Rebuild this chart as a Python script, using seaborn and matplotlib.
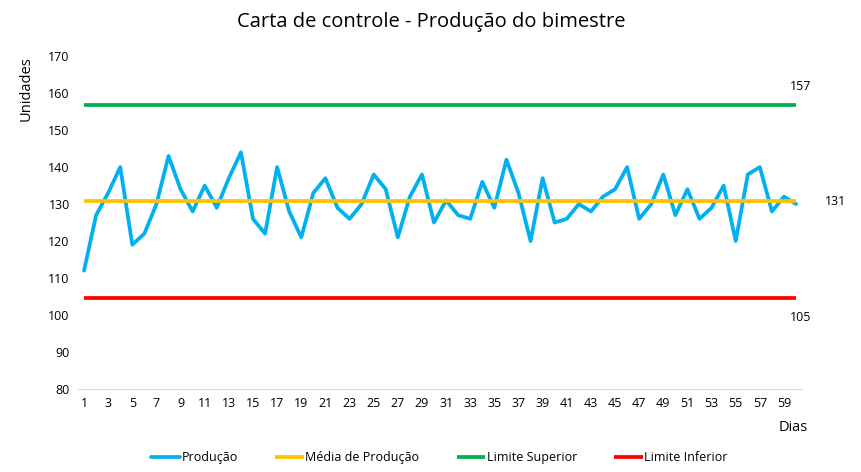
import numpy as np
import pandas as pd
import matplotlib
matplotlib.use("Agg")
import matplotlib.pyplot as plt
import seaborn as sns

dias = list(range(1, 61))
producao = [
    112, 127, 133, 140, 119, 122, 130, 143, 134, 128,
    135, 129, 137, 144, 126, 122, 140, 128, 121, 133,
    137, 129, 126, 130, 138, 134, 121, 132, 138, 125,
    131, 127, 126, 136, 129, 142, 133, 120, 137, 125,
    126, 130, 128, 132, 134, 140, 126, 130, 138, 127,
    134, 126, 129, 135, 120, 138, 140, 128, 132, 130,
]
media = 130.7
limite_sup = 156.8
limite_inf = 104.6

df = pd.DataFrame({"Dia": dias, "Produção": producao})

sns.set_style("white")
plt.rcParams["font.family"] = ["Open Sans", "DejaVu Sans"]

fig = plt.figure(figsize=(8.62, 4.72), dpi=100)
ax = fig.add_axes([0.0905, 0.176, 0.84, 0.705])

lw = 2.7
sns.lineplot(data=df, x="Dia", y="Produção", ax=ax, color="#00B0F0",
             linewidth=lw, label="Produção")
ax.hlines(media, dias[0], dias[-1], color="#FFC000", linewidth=lw,
          label="Média de Produção")
ax.hlines(limite_sup, dias[0], dias[-1], color="#00B050", linewidth=lw,
          label="Limite Superior")
ax.hlines(limite_inf, dias[0], dias[-1], color="#FF0000", linewidth=lw,
          label="Limite Inferior")

# value labels at the right end
ax.text(dias[-1] + 0.4, limite_sup + 3.3, f"{limite_sup:.0f}", fontsize=9,
        color="black", ha="center", va="bottom")
ax.text(dias[-1] + 2.4, media, f"{media:.0f}", fontsize=9,
        color="black", ha="left", va="center")
ax.text(dias[-1] + 0.4, limite_inf - 3.6, f"{limite_inf:.0f}", fontsize=9,
        color="black", ha="center", va="top")

ax.set_xlim(0.5, 60.5)
ax.set_ylim(80, 170)
ax.set_yticks(range(80, 171, 10))
ax.set_xticks(dias[::2])
ax.tick_params(axis="both", length=0, labelsize=9, colors="black", pad=6)

for side in ["top", "right", "left"]:
    ax.spines[side].set_visible(False)
ax.spines["bottom"].set_color("#D9D9D9")

ax.set_xlabel("")
ax.set_ylabel("")
fig.text(0.937, 0.095, "Dias", ha="right", va="center", fontsize=10.5,
         color="black")
fig.text(0.03, 0.88, "Unidades", rotation=90, ha="center", va="top",
         fontsize=10.5, color="black")

fig.suptitle("Carta de controle - Produção do bimestre", y=0.975,
             fontsize=14.5, color="black")

handles, labels = ax.get_legend_handles_labels()
ax.legend(handles, labels, loc="center", bbox_to_anchor=(0.51, 0.03),
          bbox_transform=fig.transFigure, ncol=4, frameon=False,
          fontsize=9, handlelength=2.3, handletextpad=0.1, columnspacing=3.0,
          labelcolor="black")

fig.savefig("out.png", dpi=100)
